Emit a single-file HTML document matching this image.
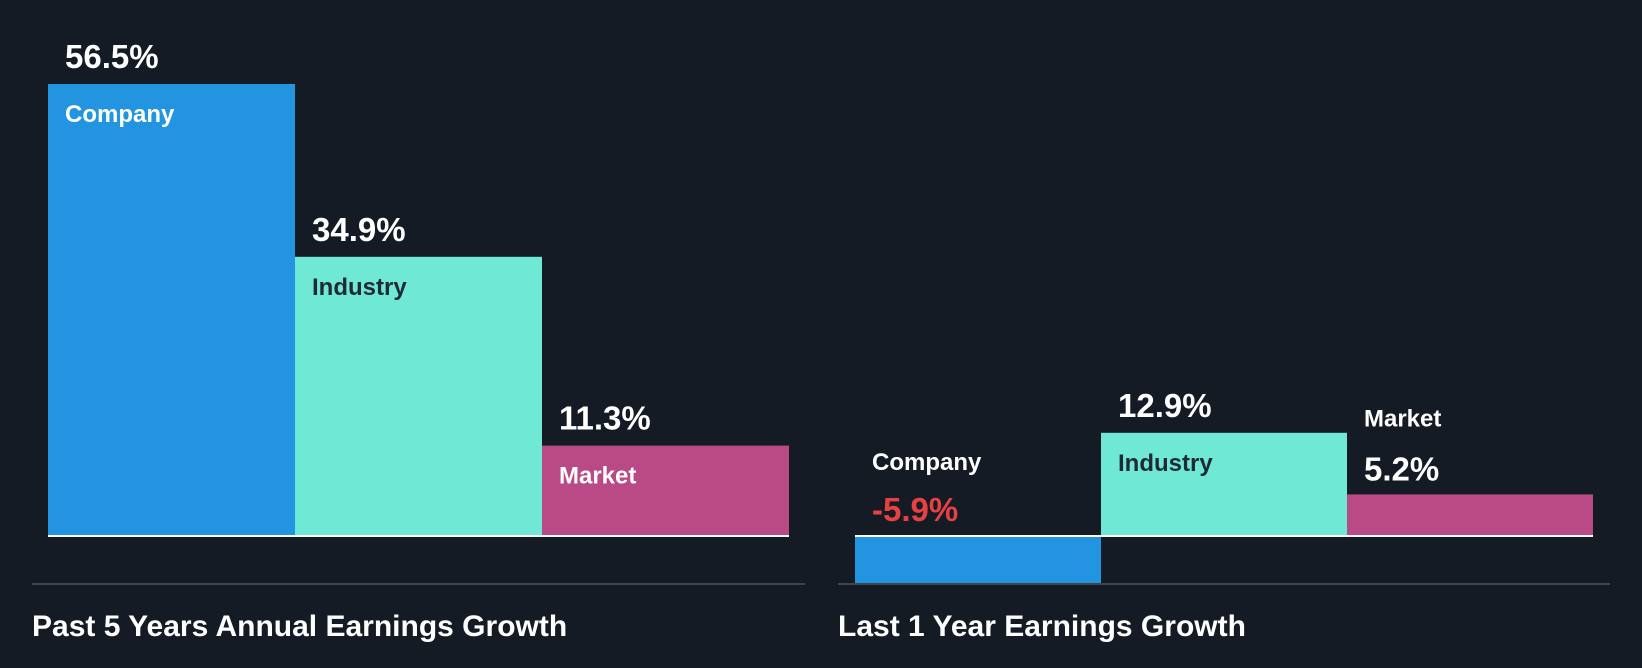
<!DOCTYPE html>
<html><head><meta charset="utf-8">
<style>
html,body{margin:0;padding:0;background:#151b24;}
svg{display:block;font-family:"Liberation Sans",sans-serif;}
</style></head>
<body>
<svg id="chart" width="1642" height="668" viewBox="0 0 1642 668" xmlns="http://www.w3.org/2000/svg">
<rect width="1642" height="668" fill="#151b24"/>
</svg>
<script>
const categories = ["Company", "Industry", "Market"];
const past5Values = [56.5, 34.9, 11.3];
const last1Values = [-5.9, 12.9, 5.2];
const panelTitles = ["Past 5 Years Annual Earnings Growth", "Last 1 Year Earnings Growth"];
const colors = ["#2394e0", "#70e8d6", "#b94a86"];
const labelColors = ["#ffffff", "#1e2a35", "#ffffff"];

const svg = document.getElementById('chart');
const NS = 'http://www.w3.org/2000/svg';
const baseY = 536;
const pxPerUnit = 8.0;
function yScale(v){ return baseY - v * pxPerUnit; }
const panels = [
  {x0: 48, barW: 247, lineX: [32, 805], values: past5Values, title: panelTitles[0], key: 'past-5-years'},
  {x0: 855, barW: 246, lineX: [838, 1610], values: last1Values, title: panelTitles[1], key: 'last-1-year'}
];
function el(tag, attrs, text){
  const e = document.createElementNS(NS, tag);
  for (const k in attrs) e.setAttribute(k, attrs[k]);
  if (text !== undefined) e.textContent = text;
  svg.appendChild(e);
  return e;
}
panels.forEach(p => {
  p.values.forEach((v, i) => {
    const x = p.x0 + i * p.barW;
    const top = Math.min(yScale(v), baseY);
    const h = Math.abs(yScale(v) - baseY);
    const r = el('rect', {x: x, y: top, width: p.barW, height: h, fill: colors[i]});
    
    
    const valStr = v.toFixed(1) + '%';
    const valColor = v < 0 ? '#e84142' : '#ffffff';
    let nameY, nameFill, valY;
    if (v < 0) {
      nameY = baseY - 66; valY = baseY - 15; nameFill = '#ffffff';
    } else if (h > 60) {
      valY = yScale(v) - 16; nameY = yScale(v) + 38; nameFill = labelColors[i];
    } else {
      nameY = yScale(v) - 68; valY = yScale(v) - 14; nameFill = '#ffffff';
    }
    const t1 = el('text', {x: x + 17, y: valY, fill: valColor, 'font-size': 33, 'font-weight': 'bold'}, valStr);
    
    
    const t2 = el('text', {x: x + 17, y: nameY, fill: nameFill, 'font-size': 24, 'font-weight': 'bold'}, categories[i]);
    
    
  });
  const base = el('line', {x1: p.x0, x2: p.x0 + 3 * p.barW, y1: baseY, y2: baseY, stroke: '#ffffff', 'stroke-width': 2});
  
  
  const div = el('line', {x1: p.lineX[0], x2: p.lineX[1], y1: 584, y2: 584, stroke: '#3f444c', 'stroke-width': 2});
  
  
  const title = el('text', {x: p.lineX[0], y: 636, fill: '#ffffff', 'font-size': 30, 'font-weight': 'bold'}, p.title);
  
  
});
</script>
</body></html>
